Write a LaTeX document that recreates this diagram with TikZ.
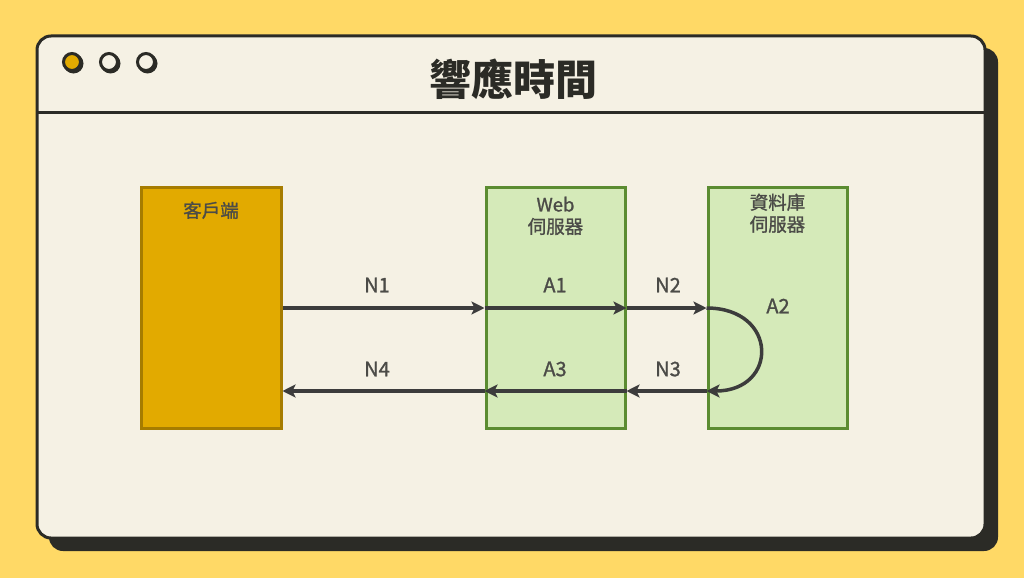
\documentclass[tikz,border=0pt]{standalone}
\usepackage{fontspec}
\setmainfont{Noto Sans CJK TC}
\newfontfamily\labelfont{Noto Sans CJK TC}[FakeBold=1.2]
\usepackage{tikz}
\usetikzlibrary{arrows.meta,positioning,calc}
\definecolor{bgyellow}{HTML}{FFD966}
\definecolor{paper}{HTML}{F5F1E4}
\definecolor{ink}{HTML}{2B2B26}
\definecolor{gold}{HTML}{E2AA00}
\definecolor{golddark}{HTML}{A67C00}
\definecolor{leaf}{HTML}{D5EAB9}
\definecolor{leafdark}{HTML}{5B8C31}
\definecolor{wire}{HTML}{3C3C3C}

\begin{document}
\begin{tikzpicture}[
      x=1pt, y=-1pt,
      >={Stealth[length=13pt,width=13pt,inset=3pt]},
      server/.style={rectangle, draw=leafdark, fill=leaf, line width=3pt,
        minimum width=139pt, minimum height=241pt},
      client box/.style={rectangle, draw=golddark, fill=gold, line width=3pt,
        minimum width=140pt, minimum height=241pt},
      box label/.style={align=center, font=\labelfont\fontsize{18.5}{22}\selectfont,
        text=ink!85, inner sep=0pt},
      flow/.style={->, draw=wire, line width=3.5pt},
      flow label/.style={font=\labelfont\fontsize{20}{22}\selectfont, text=ink!85, inner sep=0pt},
      dot/.style={circle, draw=ink, line width=3pt, minimum size=17pt, inner sep=0pt},
  ]
      \useasboundingbox (0,0) rectangle (1024,578);
      \fill[bgyellow] (0,0) rectangle (1024,578);

      % Window and shadow
      \fill[ink, rounded corners=14pt] (49,48) rectangle (998,551);
      \draw[ink, fill=paper, line width=3pt, rounded corners=14pt] (37,36) rectangle (985,538);
      \draw[ink, line width=3pt] (37,112) -- (985,112);

      % Window buttons
      \foreach \x/\c in {72/gold,109/paper,146/paper} {
          \fill[ink] (\x+1.5,63.5) circle (10pt);
          \node[dot, fill=\c] at (\x,62) {};
      }

      % Title
      \node[font=\fontsize{42}{46}\selectfont\bfseries, text=ink] (title) at (513,79) {響應時間};

      % Nodes
      \node[client box] (client) at (211,307.5) {};
      \node[server] (web) at (555.5,307.5) {};
      \node[server] (db) at (777.5,307.5) {};

      \node[box label, below=16pt of client.north] {客戶端};
      \node[box label, below=11pt of web.north] {Web\\伺服器};
      \node[box label, below=8pt of db.north] {資料庫\\伺服器};

      % Levels of the arrows
      \coordinate (req) at (0,308);
      \coordinate (resp) at (0,391);

      % Request
      \draw[flow] (client.east |- req) -- (web.west |- req);
      \draw[flow] (web.west |- req) -- (web.east |- req);
      \draw[flow] (web.east |- req) -- (db.west |- req);
      \draw[flow] (db.west |- req) .. controls ($(db.west |- req)+(72,0)$)
          and ($(db.west |- resp)+(72,0)$) .. (db.west |- resp);

      % Response
      \draw[flow] (db.west |- resp) -- (web.east |- resp);
      \draw[flow] (web.east |- resp) -- (web.west |- resp);
      \draw[flow] (web.west |- resp) -- (client.east |- resp);

      % Labels
      \node[flow label] (n1) at (377,285) {N1};
      \node[flow label] (a1) at (555,285) {A1};
      \node[flow label] (n2) at (668,285) {N2};
      \node[flow label] (a2) at (778,306) {A2};
      \node[flow label] (n3) at (668,369) {N3};
      \node[flow label] (a3) at (555,369) {A3};
      \node[flow label] (n4) at (377,369) {N4};

  \end{tikzpicture}
\end{document}
